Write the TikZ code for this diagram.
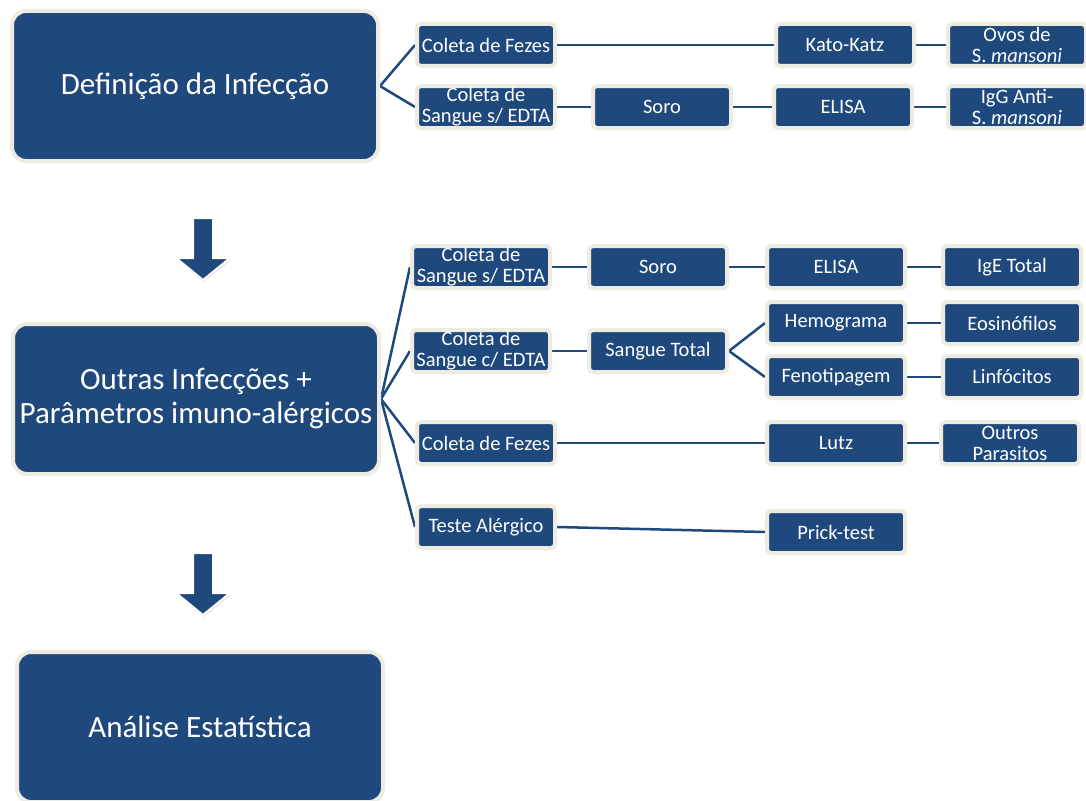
\documentclass[tikz,border=0pt]{standalone}
\usepackage{fontspec}
\setmainfont{Carlito}
\usetikzlibrary{backgrounds,shadows}

\definecolor{navy}{RGB}{31,73,125}
\definecolor{cream}{RGB}{238,236,225}

\tikzset{
  bigbox/.style={rectangle, rounded corners=14pt, fill=navy, draw=cream, line width=4pt,
    minimum width=366pt, minimum height=150pt, inner sep=2pt, text=white, align=center,
    font=\fontsize{31}{34}\selectfont, drop shadow={opacity=0.2, shadow xshift=1pt, shadow yshift=-2pt}},
  smallbox/.style={rectangle, rounded corners=4pt, fill=navy, draw=cream, line width=4pt,
    minimum width=138pt, minimum height=42pt, inner sep=1pt, text=white, align=center,
    font=\fontsize{20.5}{21}\selectfont, drop shadow={opacity=0.2, shadow xshift=1pt, shadow yshift=-2pt}},
  link/.style={draw=navy, line width=2.5pt},
  downarrow/.style={fill=navy, draw=white, line width=2pt}
}

\begin{document}
\begin{tikzpicture}[x=1pt,y=-1pt]
\useasboundingbox (0,0) rectangle (1086,800);

\newcommand\COLA{486}
\newcommand\COLB{662}
\newcommand\COLC{843}
\newcommand\COLD{1017}

\node[bigbox] (def) at (195,86) {Definição da Infecção};
\node[bigbox] (outras) at (196,399) {Outras Infecções +\\Parâmetros imuno-alérgicos};
\node[bigbox] (analise) at (200,727) {Análise Estatística};
%%

\node[smallbox] (fezesA) at (\COLA,45) {Coleta de Fezes};
\node[smallbox] (katokatz) at (845,45) {Kato-Katz};
\node[smallbox] (ovos) at (\COLD,45) {Ovos de\\S. \textit{mansoni}};

\node[smallbox] (sangueA) at (\COLA,107) {Coleta de\\Sangue s/ EDTA};
\node[smallbox] (soroA) at (\COLB,107) {Soro};
\node[smallbox] (elisaA) at (\COLC,107) {ELISA};
\node[smallbox] (igg) at (\COLD,107) {IgG Anti-\\S. \textit{mansoni}};
%%

\node[smallbox] (sangueB) at (481,267) {Coleta de\\Sangue s/ EDTA};
\node[smallbox] (soroB) at (658,267) {Soro};
\node[smallbox] (elisaB) at (836,267) {ELISA};
\node[smallbox] (ige) at (1012,267) {IgE Total};

\node[smallbox] (sangueC) at (481,351) {Coleta de\\Sangue c/ EDTA};
\node[smallbox] (total) at (658,351) {Sangue Total};
\node[smallbox] (hemo) at (836,323) {Hemograma};
\node[smallbox] (eos) at (1012,323) {Eosinófilos};
\node[smallbox] (feno) at (836,377) {Fenotipagem};
\node[smallbox] (linf) at (1012,377) {Linfócitos};

\node[smallbox] (fezesB) at (\COLA,443) {Coleta de Fezes};
\node[smallbox] (lutz) at (836,443) {Lutz};
\node[smallbox] (outros) at (1010,443) {Outros\\Parasitos};

\node[smallbox] (teste) at (\COLA,527) {Teste Alérgico};
\node[smallbox] (prick) at (836,532) {Prick-test};
%%

\begin{pgfonlayer}{background}
\draw[link] (def.east) -- (fezesA.west);
\draw[link] (def.east) -- (sangueA.west);
\draw[link] (fezesA.east) -- (katokatz.west);
\draw[link] (katokatz.east) -- (ovos.west);
\draw[link] (sangueA.east) -- (soroA.west);
\draw[link] (soroA.east) -- (elisaA.west);
\draw[link] (elisaA.east) -- (igg.west);

\draw[link] (outras.east) -- (sangueB.west);
\draw[link] (outras.east) -- (sangueC.west);
\draw[link] (outras.east) -- (fezesB.west);
\draw[link] (outras.east) -- (teste.west);
\draw[link] (sangueB.east) -- (soroB.west);
\draw[link] (soroB.east) -- (elisaB.west);
\draw[link] (elisaB.east) -- (ige.west);
\draw[link] (sangueC.east) -- (total.west);
\draw[link] (total.east) -- (hemo.west);
\draw[link] (total.east) -- (feno.west);
\draw[link] (hemo.east) -- (eos.west);
\draw[link] (feno.east) -- (linf.west);
\draw[link] (fezesB.east) -- (lutz.west);
\draw[link] (lutz.east) -- (outros.west);
\draw[link] (teste.east) -- (prick.west);
\end{pgfonlayer}
%%

\foreach \Y in {218,553}
  \draw[downarrow, drop shadow={opacity=0.2, shadow xshift=1pt, shadow yshift=-2pt}]
    (193,\Y) -- ++(20,0) -- ++(0,40) -- ++(17,0) -- ++(-27,22) -- ++(-27,-22) -- ++(17,0) -- cycle;

\end{tikzpicture}
\end{document}
